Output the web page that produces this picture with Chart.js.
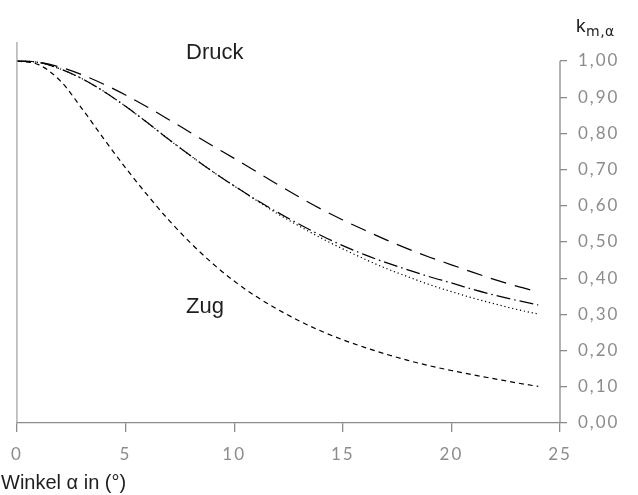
<!DOCTYPE html>
<html>
<head>
<meta charset="utf-8">
<script src="https://cdn.jsdelivr.net/npm/chart.js@4/dist/chart.umd.min.js"></script>
<style>
html,body{margin:0;padding:0;background:#fff;}
#wrap{width:638px;height:495px;position:relative;}
</style>
</head>
<body>
<div id="wrap"><canvas id="c" width="638" height="495"></canvas></div>
<script>
// ---- data ----
const angles = [0,1,2,3,4,5,6,7,8,9,10,11,12,13,14,15,16,17,18,19,20,21,22,23,24];
const druckLongDash = [1.000,0.997,0.983,0.962,0.936,0.906,0.873,0.838,0.802,0.766,0.731,0.695,0.659,0.624,0.591,0.561,0.533,0.506,0.481,0.458,0.437,0.416,0.396,0.378,0.362];
const druckDashDot  = [1.000,0.996,0.978,0.951,0.916,0.875,0.830,0.783,0.738,0.695,0.655,0.617,0.582,0.549,0.518,0.490,0.465,0.443,0.423,0.404,0.387,0.369,0.353,0.339,0.326];
const druckDotted   = [1.000,0.996,0.978,0.951,0.916,0.875,0.830,0.783,0.738,0.695,0.655,0.616,0.578,0.544,0.511,0.481,0.453,0.427,0.404,0.382,0.363,0.345,0.329,0.314,0.301];
const zug           = [1.000,0.990,0.945,0.868,0.785,0.705,0.630,0.560,0.497,0.441,0.392,0.350,0.314,0.282,0.254,0.230,0.209,0.190,0.173,0.158,0.145,0.133,0.122,0.111,0.101];
const xTicks = [0,5,10,15,20,25];
const yTicks = [0,0.1,0.2,0.3,0.4,0.5,0.6,0.7,0.8,0.9,1.0];
const labelDruck = "Druck";
const labelZug = "Zug";
const xTitle = "Winkel α in (°)";
const yTitleMain = "k";
const yTitleSub = "m,α";

const GRAY = '#8c8c8c';
const TEXT = '#1e1e1e';
const TICKFONT = 'Lato';

function pts(arr){ return arr.map((v,i)=>({x:angles[i], y:v})); }
function ds(arr, dash, w){
  return {data: pts(arr), borderColor:'#000', borderWidth: w||1.2, borderDash: dash,
          pointRadius:0, fill:false, cubicInterpolationMode:'monotone'};
}

const overlay = {
  id:'overlay',
  beforeDraw(chart){ chart.ctx.letterSpacing = '2px'; },
  afterDraw(chart){
    const {ctx, chartArea, scales} = chart;
    const x = scales.x, y = scales.y;
    ctx.save();
    ctx.letterSpacing = '0px';
    // left axis line
    ctx.strokeStyle = '#a6a6a6'; ctx.lineWidth = 1.3;
    ctx.beginPath(); ctx.moveTo(chartArea.left, chartArea.top); ctx.lineTo(chartArea.left, chartArea.bottom); ctx.stroke();
    // right axis line from 1.00 to 0
    ctx.strokeStyle = GRAY; ctx.lineWidth = 1.3;
    const xr = x.getPixelForValue(25);
    ctx.beginPath(); ctx.moveTo(xr, y.getPixelForValue(1.0)); ctx.lineTo(xr, y.getPixelForValue(0)); ctx.stroke();
    // texts
    ctx.fillStyle = TEXT; ctx.textBaseline = 'alphabetic'; ctx.textAlign = 'left';
    ctx.font = '22px "Liberation Sans", Arial, sans-serif';
    ctx.fillText(labelDruck, 186, 59);
    ctx.fillText(labelZug, 186, 313);
    ctx.font = '20px "Liberation Sans", Arial, sans-serif';
    ctx.fillText(xTitle, 1, 489);
    ctx.font = '19px "Liberation Sans", Arial, sans-serif';
    ctx.fillText(yTitleMain, 576, 32);
    const kw = ctx.measureText(yTitleMain).width;
    ctx.font = '14px "DejaVu Sans", sans-serif';
    ctx.letterSpacing = '0.5px';
    ctx.fillText(yTitleSub, 576 + kw + 0.5, 36);
    ctx.restore();
    ctx.letterSpacing = '0px';
  }
};

new Chart(document.getElementById('c'), {
  type:'line',
  data:{ datasets:[
    ds(druckLongDash,[16,9]),
    ds(druckDashDot,[14,4,1.5,4]),
    ds(druckDotted,[1.2,2.8]),
    ds(zug,[5,4])
  ]},
  options:{
    responsive:false, animation:false,
    layout:{padding:{left:15, top:42, right:0, bottom:0}},
    plugins:{legend:{display:false}, tooltip:{enabled:false}},
    scales:{
      x:{ type:'linear', position:'bottom', min:0, max:25,
          afterBuildTicks(s){ s.ticks = xTicks.map(v=>({value:v})); },
          afterFit(s){ s.height = 72; },
          grid:{drawOnChartArea:false, drawTicks:true, tickLength:9, color:GRAY, lineWidth:1.3},
          border:{display:true, color:GRAY, width:1.3},
          ticks:{color:GRAY, font:{family:TICKFONT, size:17}, padding:12, maxRotation:0,
                 callback:(v)=>String(v)} },
      y:{ type:'linear', position:'right', min:0, max:1.0525,
          afterBuildTicks(s){ s.ticks = yTicks.map(v=>({value:v})); },
          afterFit(s){ s.width = 78; },
          grid:{drawOnChartArea:false, drawTicks:true, tickLength:7, color:GRAY, lineWidth:1.3},
          border:{display:false},
          ticks:{color:GRAY, font:{family:TICKFONT, size:17}, padding:11,
                 callback:(v)=>v.toFixed(2).replace('.',',')} }
    }
  },
  plugins:[overlay]
});
</script>
</body>
</html>
